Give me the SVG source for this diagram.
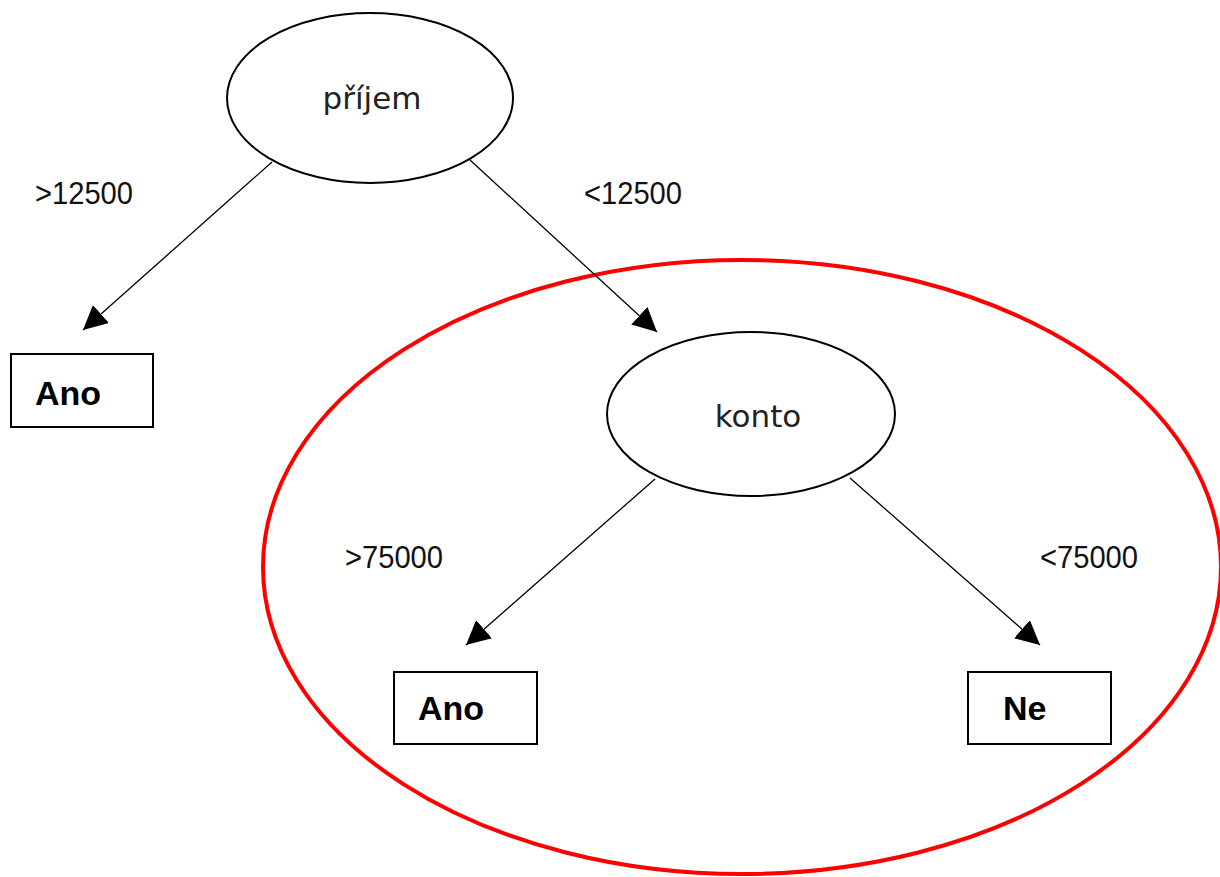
<svg xmlns="http://www.w3.org/2000/svg" width="1220" height="877" viewBox="0 0 1220 877">
<style>
.node{fill:#fff;stroke:#000;stroke-width:2}
.box{fill:#fff;stroke:#000;stroke-width:2}
.conn{stroke:#000;stroke-width:1.3;fill:none}
.lbl{font-family:"Liberation Sans",Arial,sans-serif;font-size:31px;fill:#111}
.ntxt{font-family:"DejaVu Sans","Liberation Sans",sans-serif;font-size:31px;fill:#222;text-anchor:middle}
.btxt{font-family:"Liberation Sans",Arial,sans-serif;font-size:34px;font-weight:bold;fill:#000}
</style>
<defs>
<marker id="ah" viewBox="0 0 10 10" refX="10" refY="5" markerWidth="24" markerHeight="24" markerUnits="userSpaceOnUse" orient="auto">
<path d="M0,0 L10,5 L0,10 z" fill="#000"/>
</marker>
</defs>
<rect width="1220" height="877" fill="#fff"/>
<g id="highlight">
<ellipse cx="742" cy="567" rx="479" ry="307" fill="none" stroke="#f00" stroke-width="4"/>
</g>
<g id="connectors">
<line class="conn" x1="272" y1="162" x2="83" y2="330" marker-end="url(#ah)"/>
<line class="conn" x1="470" y1="160" x2="657" y2="332" marker-end="url(#ah)"/>
<line class="conn" x1="655" y1="479" x2="466" y2="645" marker-end="url(#ah)"/>
<line class="conn" x1="850" y1="478" x2="1040" y2="645" marker-end="url(#ah)"/>
<text class="lbl" x="35" y="204" textLength="98" lengthAdjust="spacingAndGlyphs">&gt;12500</text>
<text class="lbl" x="584" y="204" textLength="98" lengthAdjust="spacingAndGlyphs">&lt;12500</text>
<text class="lbl" x="345" y="568" textLength="98" lengthAdjust="spacingAndGlyphs">&gt;75000</text>
<text class="lbl" x="1040" y="568" textLength="98" lengthAdjust="spacingAndGlyphs">&lt;75000</text>
</g>
<g id="prijem">
<ellipse class="node" cx="370" cy="98" rx="143" ry="85"/>
<text class="ntxt" x="372" y="109">příjem</text>
</g>
<g id="konto">
<ellipse class="node" cx="751" cy="414" rx="144" ry="82"/>
<text class="ntxt" x="758" y="427">konto</text>
</g>
<g id="ano1">
<rect class="box" x="11" y="354" width="142" height="73"/>
<text class="btxt" x="35" y="405">Ano</text>
</g>
<g id="ano2">
<rect class="box" x="394" y="672" width="143" height="72"/>
<text class="btxt" x="418" y="720">Ano</text>
</g>
<g id="ne">
<rect class="box" x="968" y="672" width="143" height="72"/>
<text class="btxt" x="1003" y="720">Ne</text>
</g>
</svg>
